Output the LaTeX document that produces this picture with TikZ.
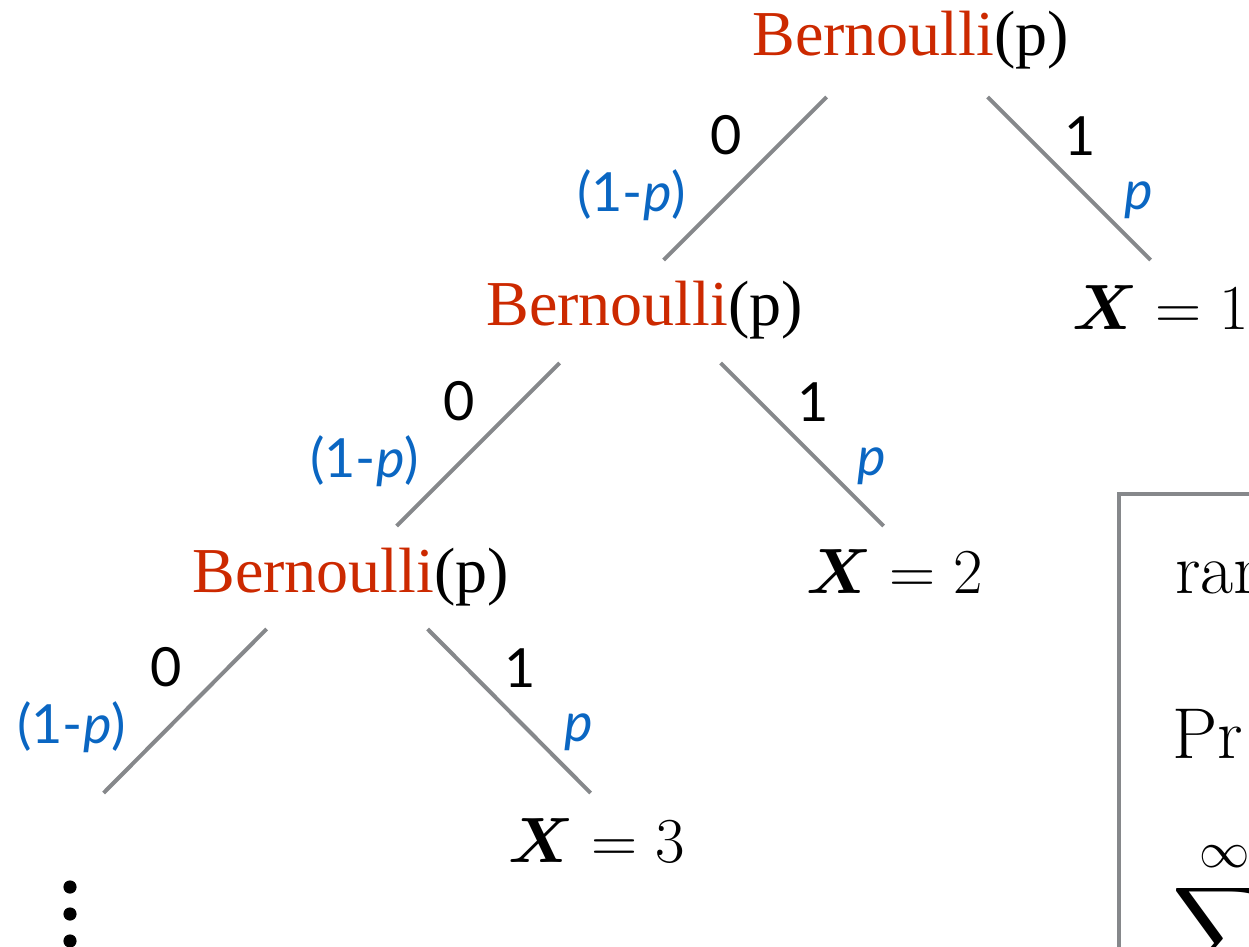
\RequirePackage{fix-cm}
\documentclass[tikz,border=0pt]{standalone}
\usepackage{amsmath}
\usepackage{fontspec}
\newfontfamily\bernfont{Liberation Serif}
\newfontfamily\labfont{Lato}
\usepackage{xcolor}
\DeclareFontFamily{OMX}{cmex}{}
\DeclareFontShape{OMX}{cmex}{m}{n}{<->cmex10}{}
\definecolor{bernred}{RGB}{204,41,0}
\definecolor{probblue}{RGB}{10,102,194}
\definecolor{linegray}{RGB}{134,136,139}
\newcommand\bernp{\textcolor{bernred}{Bernoulli}(p)}

\tikzset{
  dist/.style={inner sep=0, anchor=base west, font=\bernfont\fontsize{32}{38}\selectfont},
  outcome/.style={inner sep=0, anchor=base west, font=\fontsize{32}{38}\selectfont},
  boxtext/.style={inner sep=0, anchor=base west, font=\fontsize{36}{43}\selectfont},
  branch/.style={line width=2pt, color=linegray},
  frame/.style={line width=2pt, color=linegray},
  bitlab/.style={pos=.5, inner sep=0, font=\labfont\fontsize{27}{32}\selectfont},
  bitzero/.style={bitlab, black, xshift=-9.25pt, yshift=21.75pt},
  bitone/.style={bitlab, black, xshift=5.75pt, yshift=21.25pt},
  probq/.style={bitlab, probblue, xshift=-56.75pt, yshift=-8.25pt},
  probp/.style={bitlab, probblue, xshift=34.75pt, yshift=-10.75pt}
}

\begin{document}
\begin{tikzpicture}[x=0.5pt, y=-0.5pt]
\useasboundingbox (0,0) rectangle (1249,947);
\clip (0,0) rectangle (1249,947);

% trials
\node[dist] (b1) at (752,56) {\bernp};
\node[dist] (b2) at (486,325) {\bernp};
\node[dist] (b3) at (192,592) {\bernp};

% outcomes
\node[outcome] (x1) at (1072,329) {$\boldsymbol{X}=1$};
\node[outcome] (x2) at (806,593) {$\boldsymbol{X}=2$};
\node[outcome] (x3) at (508,862) {$\boldsymbol{X}=3$};

% branches
\draw[branch] ([shift={(-84,41)}]b1.base) -- ++(-163,163) node[bitzero]{0} node[probq]{(1-\textit{p})};
\draw[branch] ([shift={(77,41)}]b1.base) -- ++(163,163) node[bitone]{1} node[probp]{\textit{p}};
\draw[branch] ([shift={(-85,38)}]b2.base) -- ++(-163,163) node[bitzero]{0} node[probq]{(1-\textit{p})};
\draw[branch] ([shift={(76,38)}]b2.base) -- ++(163,163) node[bitone]{1} node[probp]{\textit{p}};
\draw[branch] ([shift={(-84,37)}]b3.base) -- ++(-163,164) node[bitzero]{0} node[probq]{(1-\textit{p})};
\draw[branch] ([shift={(77,37)}]b3.base) -- ++(163,164) node[bitone]{1} node[probp]{\textit{p}};

% and so on
\foreach \y in {887,914,941}
  \fill (70,\y) circle[radius=3.3pt];

% side box
\draw[frame] (1119,494) rectangle (1330,1000);
\node[boxtext] (rv) at (1175,593) {ran};
\node[boxtext] (pr) at (1172,758) {Pr};
\node[boxtext, anchor=north west] (sum) at (1172,838) {$\displaystyle\sum^{\infty}$};
\end{tikzpicture}
\end{document}
